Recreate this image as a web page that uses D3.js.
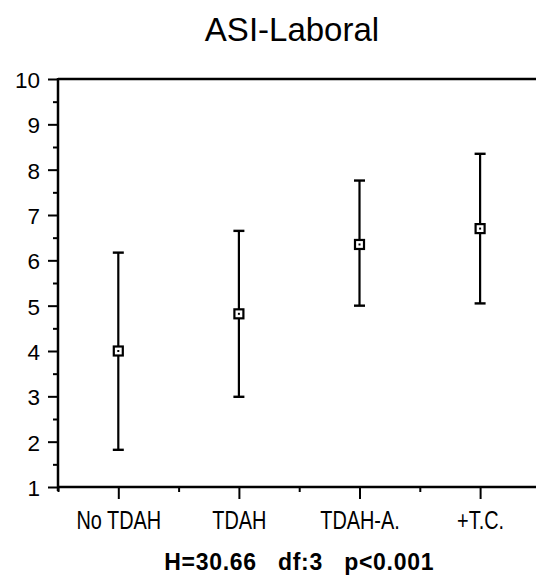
<!DOCTYPE html>
<html>
<head>
<meta charset="utf-8">
<script src="https://cdn.jsdelivr.net/npm/d3@7"></script>
<style>
  html, body { margin: 0; padding: 0; background: #fff; }
  svg { display: block; }
</style>
</head>
<body>
<svg id="chart" width="536" height="576"></svg>
<script>
// Group labels, medians and error-bar limits
const groups = ["No TDAH", "TDAH", "TDAH-A.", "+T.C."];
const centers = [4.00, 4.82, 6.35, 6.70];
const lows = [1.82, 2.99, 5.00, 5.05];
const highs = [6.17, 6.65, 7.76, 8.35];
const yMajorTicks = [1, 2, 3, 4, 5, 6, 7, 8, 9, 10];
const yMinorTicks = [1.5, 2.5, 3.5, 4.5, 5.5, 6.5, 7.5, 8.5, 9.5];
const titleText = "ASI-Laboral";
const statText = "H=30.66   df:3   p<0.001";

const FONT = "Liberation Sans, Arial, Helvetica, sans-serif";
const svg = d3.select("#chart");

const plotLeft = 58, plotTop = 79, plotBottom = 487, unit = 120.6;
const x = d3.scaleLinear().domain([0, 4]).range([plotLeft, plotLeft + 4 * unit]);
const y = d3.scaleLinear().domain([1, 10]).range([plotBottom, plotTop]);
const catPos = groups.map((g, i) => i + 0.5);

// Title
svg.append("text")
  .attr("x", 292).attr("y", 41)
  .attr("text-anchor", "middle")
  .attr("font-family", FONT)
  .attr("font-size", 33)
  .text(titleText);

// Y axis: major ticks with labels, then half-step minor ticks
const yMajor = svg.append("g").attr("transform", `translate(${plotLeft},0)`)
  .call(d3.axisLeft(y).tickValues(yMajorTicks).tickSize(10).tickSizeOuter(0).tickPadding(8).tickFormat(d3.format("d")));
yMajor.select(".domain").remove();
yMajor.selectAll("line").attr("stroke", "#000").attr("stroke-width", 2);
yMajor.selectAll("text")
  .attr("font-family", FONT)
  .attr("font-size", 22.5)
  .attr("fill", "#000")
  .attr("dy", "0.38em");

const yMinor = svg.append("g").attr("transform", `translate(${plotLeft},0)`)
  .call(d3.axisLeft(y).tickValues(yMinorTicks).tickSize(5).tickSizeOuter(0).tickFormat(""));
yMinor.select(".domain").remove();
yMinor.selectAll("line").attr("stroke", "#000").attr("stroke-width", 2);

// X axis: category ticks (long) and in-between ticks (short)
const xMajor = svg.append("g").attr("transform", `translate(0,${plotBottom})`)
  .call(d3.axisBottom(x).tickValues(catPos).tickSize(12).tickSizeOuter(0).tickPadding(12)
    .tickFormat((d, i) => groups[i]));
xMajor.select(".domain").remove();
xMajor.selectAll("line").attr("stroke", "#000").attr("stroke-width", 2);
// condensed category labels
xMajor.selectAll("text")
  .attr("font-family", FONT)
  .attr("font-size", 25.5)
  .attr("fill", "#000")
  .attr("dy", "0.69em")
  .attr("transform", "scale(0.78,1)");

const xMinor = svg.append("g").attr("transform", `translate(0,${plotBottom})`)
  .call(d3.axisBottom(x).tickValues([0, 1, 2, 3]).tickSize(5).tickSizeOuter(0).tickFormat(""));
xMinor.select(".domain").remove();
xMinor.selectAll("line").attr("stroke", "#000").attr("stroke-width", 2);

// Frame lines: left, top, bottom (open on the right)
const frame = svg.append("g").attr("stroke", "#000").attr("stroke-width", 2.5).attr("fill", "none");
frame.append("line").attr("x1", plotLeft).attr("x2", plotLeft).attr("y1", y(10) - 1).attr("y2", y(1) + 4);
frame.append("line").attr("x1", plotLeft).attr("x2", 536).attr("y1", y(10)).attr("y2", y(10));
frame.append("line").attr("x1", plotLeft).attr("x2", 536).attr("y1", y(1)).attr("y2", y(1));

// Error bars
const bars = svg.append("g").selectAll("g").data(groups).join("g");
bars.append("line")
  .attr("x1", (d, i) => x(catPos[i])).attr("x2", (d, i) => x(catPos[i]))
  .attr("y1", (d, i) => y(highs[i])).attr("y2", (d, i) => y(lows[i]))
  .attr("stroke", "#000").attr("stroke-width", 2.2);
bars.append("line")
  .attr("x1", (d, i) => x(catPos[i]) - 5.5).attr("x2", (d, i) => x(catPos[i]) + 5.5)
  .attr("y1", (d, i) => y(highs[i])).attr("y2", (d, i) => y(highs[i]))
  .attr("stroke", "#000").attr("stroke-width", 2.4);
bars.append("line")
  .attr("x1", (d, i) => x(catPos[i]) - 5.5).attr("x2", (d, i) => x(catPos[i]) + 5.5)
  .attr("y1", (d, i) => y(lows[i])).attr("y2", (d, i) => y(lows[i]))
  .attr("stroke", "#000").attr("stroke-width", 2.4);

// Square markers with a centre dot
bars.append("rect")
  .attr("x", (d, i) => x(catPos[i]) - 4.5).attr("y", (d, i) => y(centers[i]) - 4.5)
  .attr("width", 9).attr("height", 9)
  .attr("fill", "#fff").attr("stroke", "#000").attr("stroke-width", 2.2);
bars.append("rect")
  .attr("x", (d, i) => x(catPos[i]) - 1).attr("y", (d, i) => y(centers[i]) - 1)
  .attr("width", 2).attr("height", 2)
  .attr("fill", "#000");

// Test statistic below the axis
svg.append("text")
  .attr("x", x(2)).attr("y", 570)
  .attr("text-anchor", "middle")
  .attr("font-family", FONT)
  .attr("font-weight", "bold")
  .attr("font-size", 23)
  .attr("letter-spacing", 0.7)
  .attr("xml:space", "preserve")
  .style("white-space", "pre")
  .text(statText);
</script>
</body>
</html>
